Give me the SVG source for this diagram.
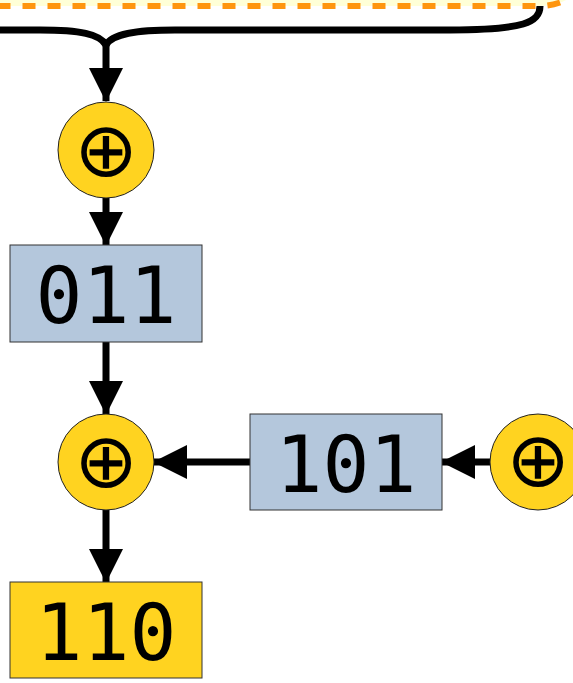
<svg xmlns="http://www.w3.org/2000/svg" width="573" height="683" viewBox="0 0 573 683">
<style>
.op{fill:#ffd320;stroke:#222;stroke-width:1}
.reg{fill:#b4c7dc;stroke:#333;stroke-width:1}
.out{fill:#ffd320;stroke:#333;stroke-width:1}
.num{font-family:"DejaVu Sans Mono","Liberation Mono",monospace;font-size:78px;text-anchor:middle;fill:#000}
.sym{font-family:"DejaVu Sans","Liberation Sans",sans-serif;font-size:76px;text-anchor:middle;fill:#000}
.edge{fill:none;stroke:#000;stroke-width:7}
</style>
<defs>
<marker id="ah" markerUnits="userSpaceOnUse" markerWidth="34" markerHeight="34" refX="33" refY="17" orient="auto" viewBox="0 0 34 34">
<path d="M0,0 L34,17 L0,34 Z" fill="#000"/>
</marker>
</defs>
<g id="frame">
<path d="M-10,-100 V6 H540 A60,60 0 0 0 600,-54 V-100 Z" fill="#ffffd7"/>
<path d="M-2.5,6 H540 A60,60 0 0 0 600,-54" fill="none" stroke="#ff950e" stroke-width="6" stroke-dasharray="13 12"/>
</g>
<g id="connectors">
<path class="edge" d="M-5,30 H40 C80,30 100,34 106,45 C112,34 135,30 175,30 H450 C525,30 540,22 540,6"/>
<path class="edge" d="M106,45 V101" marker-end="url(#ah)"/>
<path class="edge" d="M106,198 V245" marker-end="url(#ah)"/>
<path class="edge" d="M106,342 V414" marker-end="url(#ah)"/>
<path class="edge" d="M106,510 V582" marker-end="url(#ah)"/>
<path class="edge" d="M250,462 H154" marker-end="url(#ah)"/>
<path class="edge" d="M490,462 H442" marker-end="url(#ah)"/>
</g>
<g id="xor1">
<circle class="op" cx="106" cy="150" r="48"/>
<text class="sym" x="106" y="176">⊕</text>
</g>
<g id="reg011">
<rect class="reg" x="10" y="245" width="192" height="97"/>
<text class="num" x="106" y="323">011</text>
</g>
<g id="xor2">
<circle class="op" cx="106" cy="462" r="48"/>
<text class="sym" x="106" y="487">⊕</text>
</g>
<g id="reg101">
<rect class="reg" x="250" y="414" width="192" height="96"/>
<text class="num" x="346" y="492">101</text>
</g>
<g id="xor3">
<circle class="op" cx="538" cy="462" r="48"/>
<text class="sym" x="538" y="486">⊕</text>
</g>
<g id="out110">
<rect class="out" x="10" y="582" width="192" height="96"/>
<text class="num" x="106" y="660">110</text>
</g>
</svg>
